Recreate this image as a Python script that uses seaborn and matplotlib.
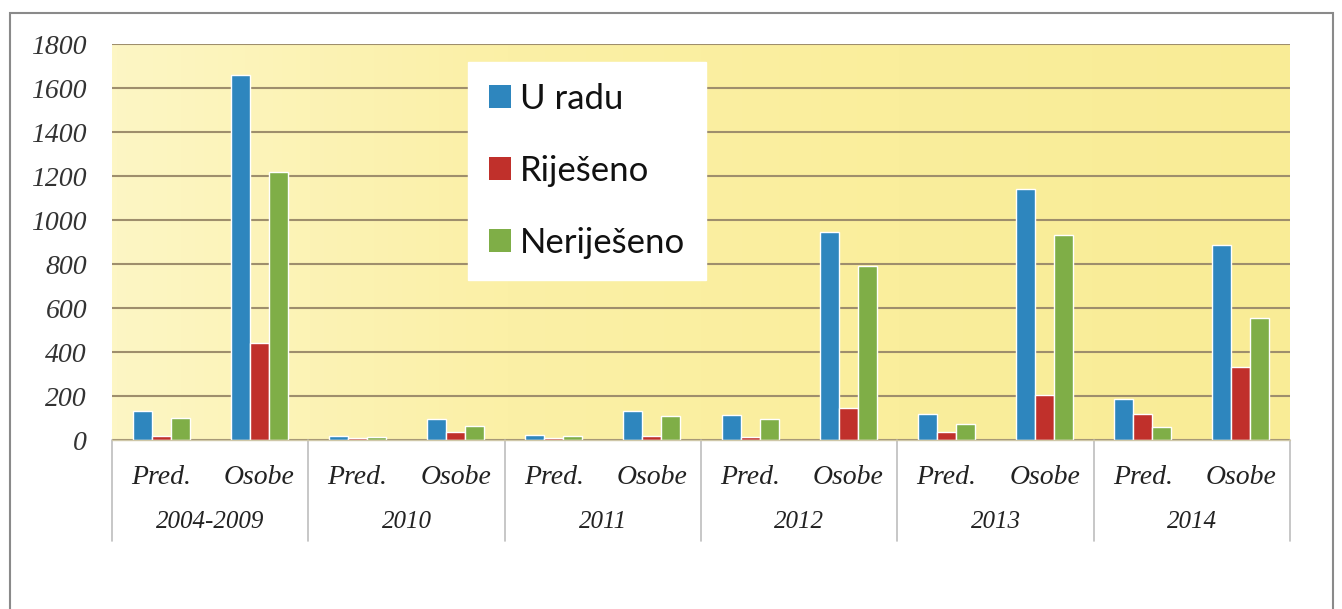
import numpy as np
import pandas as pd
import matplotlib
matplotlib.use("Agg")
import matplotlib.pyplot as plt
from matplotlib.patches import Rectangle, Patch
from matplotlib.lines import Line2D
from matplotlib.colors import LinearSegmentedColormap
import seaborn as sns

years = ["2004-2009", "2010", "2011", "2012", "2013", "2014"]
subcats = ["Pred.", "Osobe"]
series = ["U radu", "Riješeno", "Neriješeno"]
u_radu = [130, 1660, 20, 95, 25, 130, 115, 945, 120, 1140, 185, 885]
rijeseno = [20, 440, 8, 35, 8, 18, 15, 145, 35, 205, 120, 330]
nerijeseno = [100, 1220, 12, 62, 20, 110, 95, 790, 75, 930, 60, 555]
yticks = [0, 200, 400, 600, 800, 1000, 1200, 1400, 1600, 1800]

colors = ["#2E86BE", "#C0302B", "#7FAE47"]

cats = [f"{y}|{s}" for y in years for s in subcats]
rows = []
for name, vals in zip(series, [u_radu, rijeseno, nerijeseno]):
    for c, v in zip(cats, vals):
        rows.append({"cat": c, "series": name, "value": v})
df = pd.DataFrame(rows)

sns.set_style("white")
plt.rcParams["font.family"] = ["Liberation Serif", "DejaVu Serif"]

fig = plt.figure(figsize=(13.42, 6.09), dpi=100)
W, H = 1342, 609
ax = fig.add_axes([112 / W, 1 - 440 / H, (1290 - 112) / W, (440 - 44) / H])

# background gradient
grad = np.linspace(0, 1, 256).reshape(1, -1)
cmap = LinearSegmentedColormap.from_list("bg", ["#FDF6C4", "#FBF0A6", "#FAEE9C", "#F9EC96"])
ax.imshow(grad, extent=[0, 1, 0, 1], transform=ax.transAxes, cmap=cmap,
          aspect="auto", zorder=0)

sns.barplot(data=df, x="cat", y="value", hue="series", order=cats,
            hue_order=series, palette=colors, width=0.58, gap=0,
            saturation=1, ax=ax, zorder=3, legend=False, errorbar=None)

ax.set_xlim(-0.5, len(cats) - 0.5)
ax.set_ylim(0, 1800)
ax.set_yticks(yticks)
ax.set_yticklabels([str(t) for t in yticks])
for t in ax.get_yticklabels():
    t.set_fontstyle("italic")
    t.set_fontsize(20)
    t.set_color("#333333")
ax.yaxis.grid(True, color="#9E8E6C", linewidth=1.5, zorder=1)
ax.set_axisbelow(True)
for s in ax.spines.values():
    s.set_visible(False)
ax.tick_params(axis="both", length=0)
ax.tick_params(axis="y", pad=18)
ax.set_xticks(range(len(cats)))
ax.set_xticklabels([c.split("|")[1] for c in cats])
for t in ax.get_xticklabels():
    t.set_fontstyle("italic")
    t.set_fontsize(20)
    t.set_color("#222222")
ax.tick_params(axis="x", pad=18)
ax.set_xlabel("")
ax.set_ylabel("")

trans = ax.get_xaxis_transform()
for i, y in enumerate(years):
    ax.text(2 * i + 0.5, -0.207, y, transform=trans, ha="center", va="center",
            fontsize=18, style="italic", color="#222222")
for b in np.arange(-0.5, len(cats), 2):
    ax.add_line(Line2D([b, b], [0, -0.255], transform=trans, color="#BDBDBD",
                       linewidth=1.2, clip_on=False))
ax.add_line(Line2D([-0.5, len(cats) - 0.5], [0, 0], transform=trans,
                   color="#CFC7A8", linewidth=1.0, clip_on=False, zorder=4))

handles = [Patch(facecolor=c, edgecolor="none") for c in colors]
leg = fig.legend(handles, series, loc="upper left",
                 bbox_to_anchor=(468 / W, 1 - 62 / H),
                 prop={"family": "Lato", "size": 25},
                 frameon=True, fancybox=False, framealpha=1,
                 edgecolor="white", facecolor="white",
                 handlelength=0.65, handleheight=0.65, handletextpad=0.25,
                 labelspacing=1.15, borderpad=0.6, borderaxespad=0)
for t in leg.get_texts():
    t.set_color("#111111")

fig.patches.append(Rectangle((10 / W, -0.01), (1333 - 10) / W, 1 - 13 / H + 0.01,
                             transform=fig.transFigure, fill=False,
                             edgecolor="#8A8A8A", linewidth=1.5))

fig.savefig("out.png", dpi=100)
